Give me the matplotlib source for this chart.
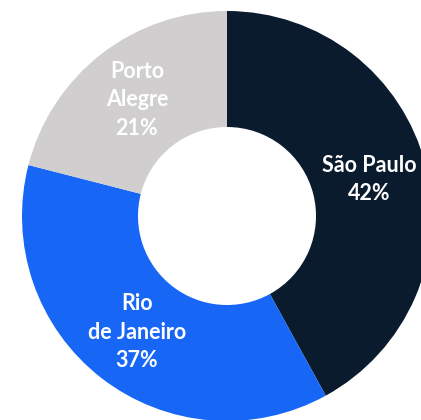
import matplotlib.pyplot as plt
import numpy as np

ciudades = ['São Paulo', 'Rio\nde Janeiro', 'Porto\nAlegre']
porcentajes = [42, 37, 21]
colores = ['#0b1b2e', '#1766f5', '#d0cecf']

fig = plt.figure(figsize=(4.21, 4.20), dpi=100)
ax = fig.add_axes([0, 0, 1, 1])

R = 205
centro = (227, 204)
wedges, _ = ax.pie(porcentajes, colors=colores, startangle=90, counterclock=False,
                   radius=R, center=centro, frame=True,
                   wedgeprops=dict(width=R - 89, linewidth=0))
ax.set_xlim(0, 421)
ax.set_ylim(0, 420)
ax.set_aspect('equal')
ax.axis('off')

for w, nombre, p in zip(wedges, ciudades, porcentajes):
    ang = np.deg2rad((w.theta1 + w.theta2) / 2)
    x = centro[0] + 147 * np.cos(ang)
    y = centro[1] + 147 * np.sin(ang)
    ax.text(x, y, f'{nombre}\n{p}%', ha='center', va='center', color='white',
            fontsize=15.5, fontweight='bold', family='Lato', linespacing=1.45)

fig.savefig('out.png', dpi=100)
